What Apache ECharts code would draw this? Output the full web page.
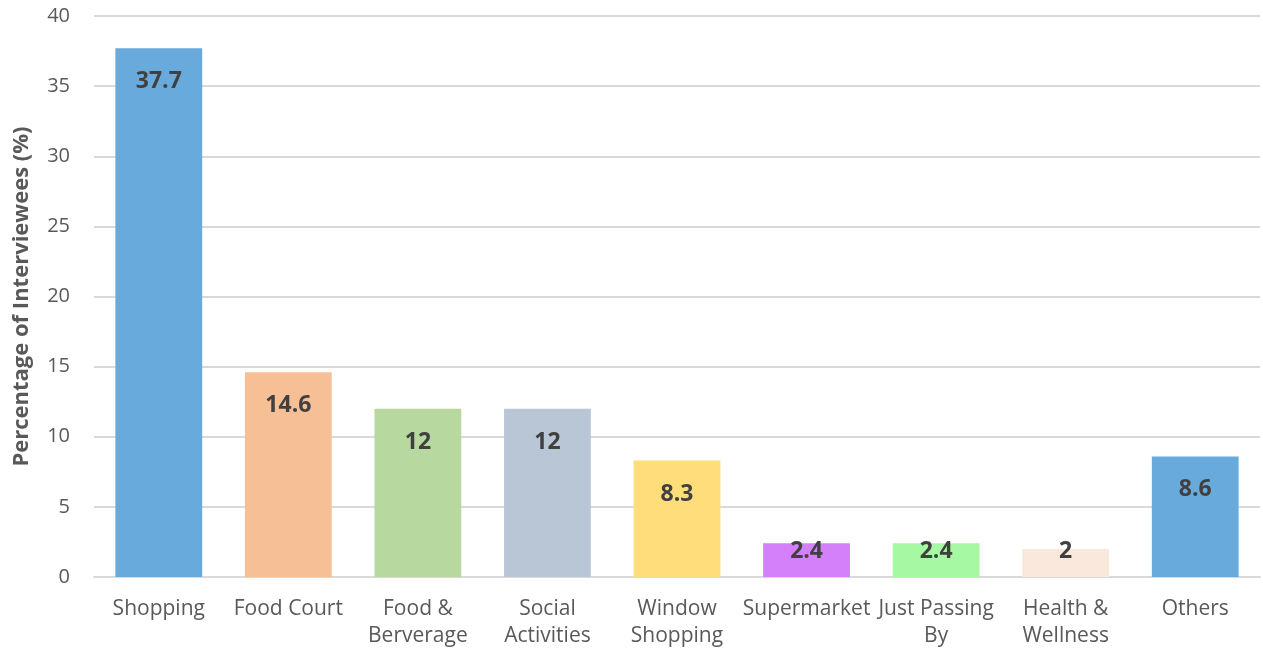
<!DOCTYPE html>
<html>
<head>
<meta charset="utf-8">
<script src="https://cdn.jsdelivr.net/npm/echarts@6/dist/echarts.min.js"></script>
<style>html,body{margin:0;padding:0;background:#fff;}#c{width:1263px;height:649px;}</style>
</head>
<body>
<div id="c"></div>
<script>
const categories = ['Shopping', 'Food Court', 'Food &\nBerverage', 'Social\nActivities', 'Window\nShopping', 'Supermarket', 'Just Passing\nBy', 'Health &\nWellness', 'Others'];
const values = [37.7, 14.6, 12, 12, 8.3, 2.4, 2.4, 2, 8.6];
const colors = ['#68aadc', '#f7bf96', '#b7d89f', '#b9c6d6', '#fedd7a', '#d580fb', '#a6f8a2', '#fae8dc', '#68aadc'];
const yTicks = { min: 0, max: 40, interval: 5 };

const font = 'Open Sans';
const chart = echarts.init(document.getElementById('c'));
chart.setOption({
  animation: false,
  grid: { left: 94, right: 3, top: 16, bottom: 72, outerBoundsMode: 'none', containLabel: false },
  xAxis: {
    type: 'category',
    data: categories,
    axisTick: { show: false },
    axisLine: { lineStyle: { color: '#d9d9d9', width: 2 } },
    axisLabel: { interval: 0, margin: 19, fontFamily: font, fontSize: 21, color: '#595959', lineHeight: 27 }
  },
  yAxis: {
    type: 'value',
    min: yTicks.min, max: yTicks.max, interval: yTicks.interval,
    name: 'Percentage of Interviewees (%)',
    nameLocation: 'middle',
    nameGap: 61,
    nameTextStyle: { fontFamily: font, fontSize: 22, fontWeight: 'bold', color: '#595959' },
    axisLabel: { margin: 24, fontFamily: font, fontSize: 20, color: '#595959' },
    splitLine: { lineStyle: { color: '#d9d9d9', width: 2 } },
    axisLine: { show: false },
    axisTick: { show: false }
  },
  series: [{
    type: 'bar',
    barCategoryGap: '33%',
    data: values.map((v, i) => ({
      value: v,
      itemStyle: { color: colors[i] },
      label: v >= 5 ? { position: 'insideTop', distance: 22 } : { position: 'insideBottom', distance: 14 }
    })),
    label: { show: true, fontFamily: font, fontSize: 23, fontWeight: 'bold', color: '#404040' }
  }]
});
</script>
</body>
</html>
